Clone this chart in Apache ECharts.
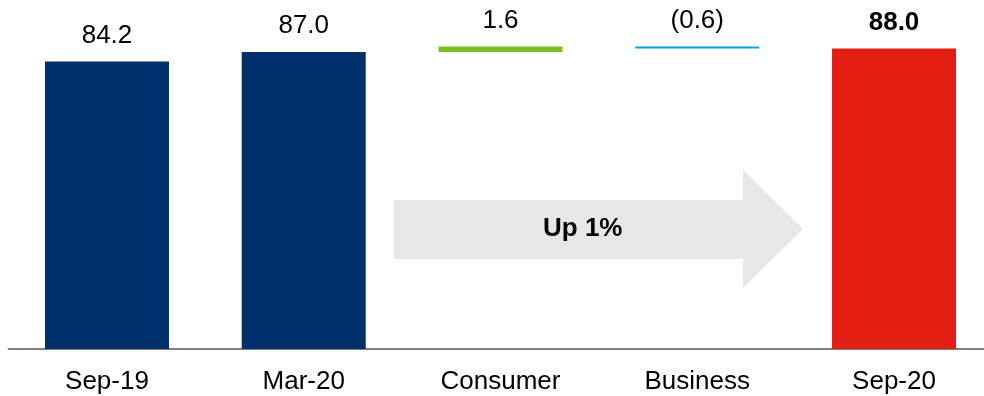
<!DOCTYPE html>
<html>
<head>
<meta charset="utf-8">
<script src="https://cdn.jsdelivr.net/npm/echarts@6/dist/echarts.min.js"></script>
<style>
  html, body { margin: 0; padding: 0; background: #fff; overflow: hidden; }
  #chart { width: 1001px; height: 396px; }
</style>
</head>
<body>
<div id="chart"></div>
<script>
// bridge data
var categories = ['Sep-19', 'Mar-20', 'Consumer', 'Business', 'Sep-20'];
var values = [84.2, 87.0, 1.6, -0.6, 88.0];
var kinds = ['total', 'total', 'delta', 'delta', 'total'];

var colors = ['#00306b', '#00306b', '#7ac023', '#00a3da', '#e31e13'];
var font = "'Liberation Sans', Arial, sans-serif";

// build invisible base + visible part for the waterfall
var baseArr = [];
var showArr = [];
var running = 0;
for (var i = 0; i < values.length; i++) {
    if (kinds[i] == 'total') {
        baseArr.push(0);
        showArr.push(values[i]);
        running = values[i];
    } else {
        if (values[i] >= 0) {
            baseArr.push(running);
        } else {
            baseArr.push(running + values[i]);
        }
        showArr.push(Math.abs(values[i]));
        running = running + values[i];
    }
}

// the plot runs past the right edge of the window, so the div is wider than it
var myChart = echarts.init(document.getElementById('chart'));
var option = {
    animation: false,
    grid: { left: 8.6, right: 8.6, top: 7.5, bottom: 47 },
    xAxis: {
        type: 'category',
        data: categories,
        axisLine: { lineStyle: { color: '#7f7f7f', width: 2 } },
        axisTick: { show: false },
        axisLabel: { color: '#000', fontSize: 26, fontFamily: font, margin: 20 }
    },
    yAxis: { type: 'value', min: 0, max: 100, show: false },
    graphic: [{
        type: 'polygon',
        z: -1,
        shape: {
            points: [[394, 200], [743, 200], [743, 170], [803, 229], [743, 288], [743, 259], [394, 259]]
        },
        style: { fill: '#e7e6e9' }
    }, {
        type: 'text',
        left: 543,
        top: 216,
        style: { text: 'Up 1%', fontSize: 26, fontWeight: 'bold', fontFamily: font, fill: '#000' }
    }],
    series: [{
        type: 'bar',
        stack: 'w',
        barWidth: 124,
        silent: true,
        itemStyle: { color: 'transparent' },
        data: baseArr
    }, {
        type: 'bar',
        stack: 'w',
        barWidth: 124,
        data: showArr.map(function (v, i) {
            return {
                value: v,
                itemStyle: { color: colors[i] },
                label: { fontWeight: i == values.length - 1 ? 'bold' : 'normal' }
            };
        }),
        label: {
            show: true,
            position: 'top',
            distance: 13,
            color: '#000',
            fontSize: 26,
            fontFamily: font,
            formatter: function (p) {
                var v = values[p.dataIndex];
                if (v < 0) return '(' + Math.abs(v).toFixed(1) + ')';
                return v.toFixed(1);
            }
        }
    }]
};
myChart.setOption(option);
</script>
</body>
</html>
